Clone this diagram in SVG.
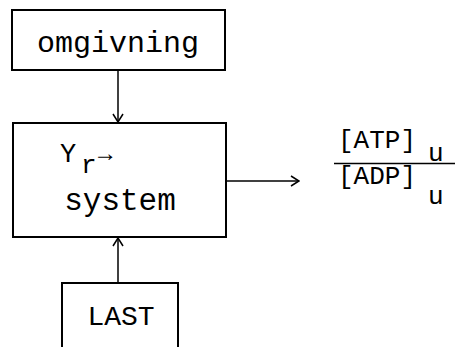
<svg xmlns="http://www.w3.org/2000/svg" width="461" height="347" viewBox="0 0 461 347">
  <style>
    .box { fill: none; stroke: #000; stroke-width: 2; }
    .wire { fill: none; stroke: #000; stroke-width: 1.5; }
    .t { font-family: "Liberation Mono", "DejaVu Sans Mono", monospace; fill: #000; }
  </style>
  <defs>
    <marker id="head" viewBox="0 0 10 12" refX="9" refY="6" markerWidth="10" markerHeight="12" markerUnits="userSpaceOnUse" orient="auto">
      <polyline points="1,1 9,6 1,11" fill="none" stroke="#000" stroke-width="1.5"/>
    </marker>
  </defs>
  <rect width="461" height="347" fill="#fff"/>

  <g id="omgivning">
    <rect class="box" x="12" y="10" width="213" height="60"/>
    <text class="t" x="118" y="52" font-size="30" text-anchor="middle">omgivning</text>
  </g>

  <g id="system">
    <rect class="box" x="13" y="123" width="213" height="114"/>
    <text class="t" x="60" y="162" font-size="27">Y</text>
    <text class="t" x="81" y="173" font-size="26">r</text>
    <text class="t" x="98" y="161" font-size="24">→</text>
    <text class="t" x="120" y="210" font-size="31" text-anchor="middle">system</text>
  </g>

  <g id="last">
    <rect class="box" x="62" y="283" width="116" height="80"/>
    <text class="t" x="121" y="325" font-size="28" text-anchor="middle">LAST</text>
  </g>

  <g id="ratio">
    <text class="t" x="377" y="148" font-size="26" text-anchor="middle">[ATP]</text>
    <text class="t" x="428" y="161" font-size="26">u</text>
    <line x1="334" y1="163.5" x2="455" y2="163.5" stroke="#000" stroke-width="1.5"/>
    <text class="t" x="377" y="184" font-size="26" text-anchor="middle">[ADP]</text>
    <text class="t" x="428" y="204" font-size="26">u</text>
  </g>

  <g id="connectors">
    <line class="wire" x1="118" y1="70" x2="118" y2="122" marker-end="url(#head)"/>
    <line class="wire" x1="118" y1="283" x2="118" y2="238" marker-end="url(#head)"/>
    <line class="wire" x1="226" y1="181" x2="299" y2="181" marker-end="url(#head)"/>
  </g>
</svg>
